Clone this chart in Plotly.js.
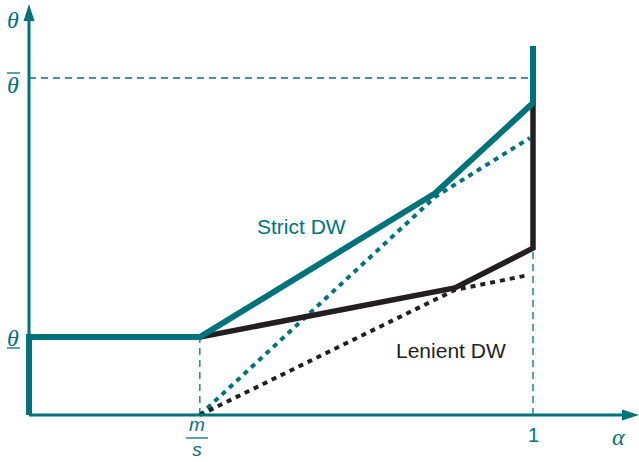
<!DOCTYPE html>
<html>
<head>
<meta charset="utf-8">
<script src="https://cdn.plot.ly/plotly-3.0.1.min.js"></script>
<style>html,body{margin:0;padding:0;background:#fff;}#chart{width:639px;height:462px;}</style>
</head>
<body>
<div id="chart"></div>
<script>
// ---- data (alpha on x, theta on y) ----
const ms = 0.339;          // m/s
const thetaLow = 0.190;    // underline theta
const thetaBar = 0.822;    // overline theta

const strictX = [0, 0, ms, 0.806, 1, 1];
const strictY = [0, thetaLow, thetaLow, 0.541, 0.761, 0.900];

const lenientX = [ms, 0.845, 1, 1];
const lenientY = [thetaLow, 0.310, 0.407, 0.761];

const strictDotX = [ms, 0.806, 0.994];
const strictDotY = [0, 0.532, 0.676];

const lenientDotX = [ms, 0.845, 0.990];
const lenientDotY = [0, 0.305, 0.341];

const xTickLabels = ['m/s', '1'];
const seriesNames = ['Strict DW', 'Lenient DW'];

const TEAL = '#00737A';
const BLACK = '#231F20';

// pixel -> paper helpers (plot area covers whole canvas)
const W = 639, H = 462;
const px = v => v / W;
const py = v => 1 - v / H;

const traces = [
  {x: strictDotX, y: strictDotY, mode: 'lines', line: {color: TEAL, width: 4, dash: '5px,5px'}, cliponaxis: false, hoverinfo: 'skip'},
  {x: lenientDotX, y: lenientDotY, mode: 'lines', line: {color: BLACK, width: 4, dash: '5px,5px'}, cliponaxis: false, hoverinfo: 'skip'},
  {x: lenientX, y: lenientY, mode: 'lines', name: seriesNames[1], line: {color: BLACK, width: 5.5, shape: 'linear'}, cliponaxis: false},
  {x: strictX, y: strictY, mode: 'lines', name: seriesNames[0], line: {color: TEAL, width: 6, shape: 'linear'}, cliponaxis: false}
];

const dashed = {color: TEAL, width: 1.3, dash: '7px,5px'};
const shapes = [
  // guide lines
  {type: 'line', xref: 'x', yref: 'y', x0: 0, x1: 1, y0: thetaBar, y1: thetaBar, line: dashed, layer: 'below'},
  {type: 'line', xref: 'x', yref: 'y', x0: ms, x1: ms, y0: 0, y1: thetaLow, line: dashed, layer: 'below'},
  {type: 'line', xref: 'x', yref: 'y', x0: 1, x1: 1, y0: 0, y1: 0.407, line: dashed, layer: 'below'},
  // axes
  {type: 'line', xref: 'paper', yref: 'paper', x0: px(29), x1: px(29), y0: py(415), y1: py(18), line: {color: TEAL, width: 3}},
  {type: 'line', xref: 'paper', yref: 'paper', x0: px(29), x1: px(624), y0: py(415), y1: py(415), line: {color: TEAL, width: 3}},
  // arrowheads
  {type: 'path', xref: 'paper', yref: 'paper',
   path: `M ${px(29)} ${py(4)} L ${px(23.5)} ${py(21)} L ${px(34.5)} ${py(21)} Z`,
   fillcolor: TEAL, line: {width: 0}},
  {type: 'path', xref: 'paper', yref: 'paper',
   path: `M ${px(639)} ${py(415)} L ${px(622)} ${py(409.5)} L ${px(622)} ${py(420.5)} Z`,
   fillcolor: TEAL, line: {width: 0}},
  // overline on theta-bar, underline on theta-low
  {type: 'line', xref: 'paper', yref: 'paper', x0: px(7), x1: px(20), y0: py(73), y1: py(73), line: {color: TEAL, width: 1.3}},
  {type: 'line', xref: 'paper', yref: 'paper', x0: px(7), x1: px(20), y0: py(348), y1: py(348), line: {color: TEAL, width: 1.3}},
  // fraction bar of m/s
  {type: 'line', xref: 'paper', yref: 'paper', x0: px(186), x1: px(208), y0: py(438), y1: py(438), line: {color: TEAL, width: 1.3}}
];

const serif = {family: 'Liberation Serif, DejaVu Serif, serif', size: 24, color: TEAL};
const sans = {family: 'Liberation Sans, Arial, sans-serif', size: 21, color: TEAL};
const ann = (x, y, text, font) => ({xref: 'paper', yref: 'paper', x: px(x), y: py(y), text: text, showarrow: false, xanchor: 'center', yanchor: 'middle', font: font});

const parts = xTickLabels[0].split('/');
const annotations = [
  ann(13, 20, '<i>θ</i>', serif),
  ann(13, 85, '<i>θ</i>', serif),
  ann(13, 338, '<i>θ</i>', serif),
  ann(618, 437, '<i>α</i>', serif),
  ann(197, 437, '<i>' + parts[0] + '</i><br><i>' + parts[1] + '</i>', Object.assign({}, sans, {size: 19})),
  ann(533, 435, xTickLabels[1], Object.assign({}, sans, {size: 20})),
  ann(301, 226, seriesNames[0], sans),
  ann(451, 350, seriesNames[1], Object.assign({}, sans, {color: BLACK}))
];

const layout = {
  width: W, height: H,
  margin: {l: 0, r: 0, t: 0, b: 0},
  paper_bgcolor: '#fff', plot_bgcolor: '#fff',
  showlegend: false,
  xaxis: {range: [-29/504, 610/504], visible: false, fixedrange: true},
  yaxis: {range: [-47/410, 415/410], visible: false, fixedrange: true},
  shapes: shapes,
  annotations: annotations
};

Plotly.newPlot('chart', traces, layout, {staticPlot: true, displayModeBar: false});
</script>
</body>
</html>
